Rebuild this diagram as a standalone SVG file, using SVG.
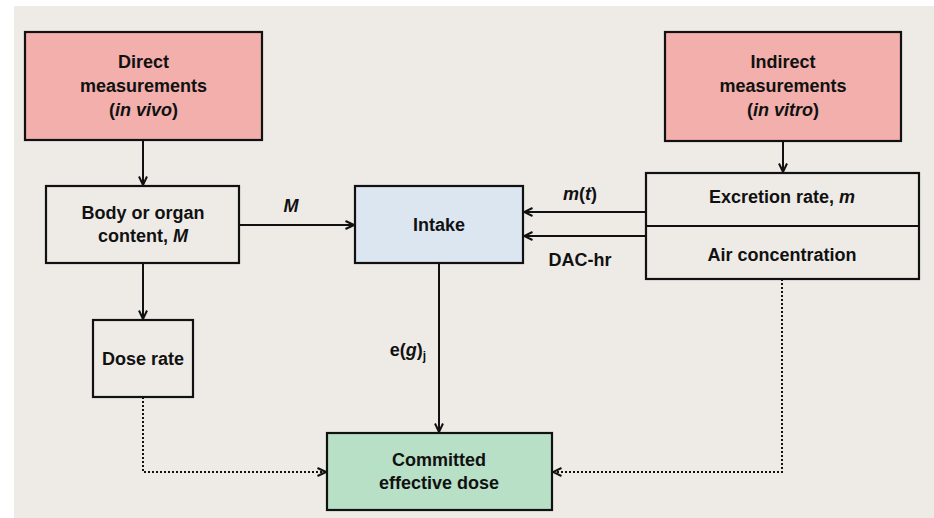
<svg xmlns="http://www.w3.org/2000/svg" width="934" height="518" viewBox="0 0 934 518">
<defs>
<style>
.bg{fill:#EEEBE7}
.box{stroke:#111;stroke-width:2.2}
.pink{fill:#F2AFAC}
.plain{fill:#EEEBE7}
.blue{fill:#DCE6F1}
.green{fill:#B7E0C6}
.t{font-family:"Liberation Sans",Arial,sans-serif;font-weight:bold;font-size:18px;fill:#111;text-anchor:middle}
.i{font-style:italic}
.c{fill:none;stroke:#111;stroke-width:2}
.dot{fill:none;stroke:#111;stroke-width:2;stroke-dasharray:2 2}
</style>
<marker id="ah" viewBox="0 0 10 10" refX="9.5" refY="5" markerWidth="10" markerHeight="10" markerUnits="userSpaceOnUse" orient="auto">
<path d="M1,1 L9.5,5 L1,9" fill="none" stroke="#111" stroke-width="2"/>
</marker>
</defs>
<rect x="0" y="0" width="934" height="518" fill="#ffffff"/>
<rect class="bg" x="14" y="6" width="920" height="512"/>

<g id="connectors">
<path class="c" d="M143,141 V185" marker-end="url(#ah)"/>
<path class="c" d="M783,141 V172" marker-end="url(#ah)"/>
<path class="c" d="M239,225 H354" marker-end="url(#ah)"/>
<path class="c" d="M646,212 H524" marker-end="url(#ah)"/>
<path class="c" d="M646,236 H524" marker-end="url(#ah)"/>
<path class="c" d="M143,263 V319" marker-end="url(#ah)"/>
<path class="c" d="M439,263 V432" marker-end="url(#ah)"/>
<path class="dot" d="M143,397 V472 H326" marker-end="url(#ah)"/>
<path class="dot" d="M782,279 V472 H553" marker-end="url(#ah)"/>
<text class="t i" x="291" y="212">M</text>
<text class="t" x="580" y="200"><tspan class="i">m</tspan>(<tspan class="i">t</tspan>)</text>
<text class="t" x="580" y="266">DAC-hr</text>
<text class="t" x="408" y="356">e(<tspan class="i">g</tspan>)<tspan font-size="12" dy="4">j</tspan></text>
</g>

<g id="direct">
<rect class="box pink" x="25" y="32" width="237" height="108"/>
<text class="t" x="143.5" y="68">Direct</text>
<text class="t" x="143.5" y="92">measurements</text>
<text class="t" x="143.5" y="116">(<tspan class="i">in vivo</tspan>)</text>
</g>

<g id="indirect">
<rect class="box pink" x="665" y="32" width="236" height="109"/>
<text class="t" x="783" y="68">Indirect</text>
<text class="t" x="783" y="92">measurements</text>
<text class="t" x="783" y="116">(<tspan class="i">in vitro</tspan>)</text>
</g>

<g id="body">
<rect class="box plain" x="46" y="186" width="193" height="77"/>
<text class="t" x="143" y="219">Body or organ</text>
<text class="t" x="143" y="242">content, <tspan class="i">M</tspan></text>
</g>

<g id="intake">
<rect class="box blue" x="355" y="186" width="168" height="77"/>
<text class="t" x="439" y="231">Intake</text>
</g>

<g id="excretion-air">
<rect class="box plain" x="646" y="173" width="273" height="106"/>
<line class="box" x1="646" y1="226" x2="919" y2="226"/>
<text class="t" x="782" y="203">Excretion rate, <tspan class="i">m</tspan></text>
<text class="t" x="782" y="261">Air concentration</text>
</g>

<g id="doserate">
<rect class="box plain" x="93" y="320" width="100" height="77"/>
<text class="t" x="143" y="365">Dose rate</text>
</g>

<g id="committed">
<rect class="box green" x="327" y="433" width="225" height="77"/>
<text class="t" x="439" y="466">Committed</text>
<text class="t" x="439" y="489">effective dose</text>
</g>
</svg>
